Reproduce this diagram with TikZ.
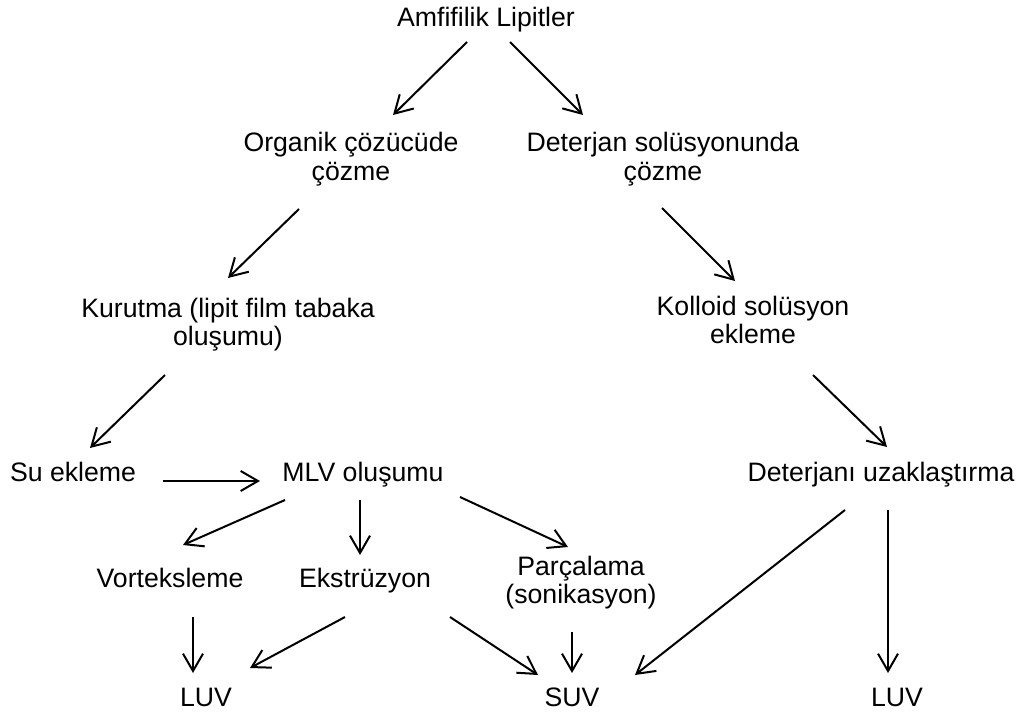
\documentclass[tikz,border=0pt]{standalone}
\usepackage{fontspec}
\setmainfont{Liberation Sans}
\usetikzlibrary{arrows.meta}
\begin{document}
\begin{tikzpicture}[x=0.75pt,y=-0.75pt,
  lbl/.style={anchor=base,inner sep=0pt,align=center,font=\fontsize{20}{21}\selectfont},
  arr/.style={line width=1.5pt,-{Straight Barb[length=13pt,width=15pt,line width=1.5pt]}}]
\useasboundingbox (0,0) rectangle (1019,713);
% nodes (base = baseline of the last line)
\node[lbl] (amf) at (486,27) {Amfifilik Lipitler};
\node[lbl] (org) at (351,180) {Organik çözücüde\\çözme};
\node[lbl] (det) at (663,180) {Deterjan solüsyonunda\\çözme};
\node[lbl] (kur) at (228,345) {Kurutma (lipit film tabaka\\oluşumu)};
\node[lbl] (kol) at (753,343) {Kolloid solüsyon\\ekleme};
\node[lbl] (su) at (73,481) {Su ekleme};
\node[lbl] (mlv) at (363,481) {MLV oluşumu};
\node[lbl] (duz) at (881,481) {Deterjanı uzaklaştırma};
\node[lbl] (vor) at (170,587) {Vorteksleme};
\node[lbl] (eks) at (365,587) {Ekstrüzyon};
\node[lbl] (par) at (581,603) {Parçalama\\(sonikasyon)};
\node[lbl] (luv1) at (206,706) {LUV};
\node[lbl] (suv) at (572,706) {SUV};
\node[lbl] (luv2) at (897,706) {LUV};
% connector end points
\coordinate (amfL) at (467,42);  \coordinate (orgT) at (393,115);
\coordinate (amfR) at (510,42);  \coordinate (detT) at (583,115);
\coordinate (orgB) at (299,209); \coordinate (kurT) at (228,278);
\coordinate (detB) at (662,208); \coordinate (kolT) at (735,281);
\coordinate (kurB) at (165,375); \coordinate (suT) at (90,448);
\coordinate (kolB) at (813,375); \coordinate (duzT) at (887,447);
\coordinate (suR) at (163,481);  \coordinate (mlvL) at (260,481);
\coordinate (mlvA) at (285,500); \coordinate (vorT) at (183,545);
\coordinate (mlvB) at (360,500); \coordinate (eksT) at (360,555);
\coordinate (mlvC) at (460,497); \coordinate (parT) at (568,547);
\coordinate (vorB) at (193,617); \coordinate (luv1T) at (193,673);
\coordinate (eksA) at (345,617); \coordinate (luv1R) at (250,668);
\coordinate (eksB) at (450,617); \coordinate (suvL) at (538,675);
\coordinate (parB) at (572,632); \coordinate (suvT) at (572,673);
\coordinate (duzA) at (845,510); \coordinate (suvR) at (635,675);
\coordinate (duzB) at (888,510); \coordinate (luv2T) at (888,673);
% connectors
\draw[arr] (amfL) -- (orgT);
\draw[arr] (amfR) -- (detT);
\draw[arr] (orgB) -- (kurT);
\draw[arr] (detB) -- (kolT);
\draw[arr] (kurB) -- (suT);
\draw[arr] (kolB) -- (duzT);
\draw[arr] (suR) -- (mlvL);
\draw[arr] (mlvA) -- (vorT);
\draw[arr] (mlvB) -- (eksT);
\draw[arr] (mlvC) -- (parT);
\draw[arr] (vorB) -- (luv1T);
\draw[arr] (eksA) -- (luv1R);
\draw[arr] (eksB) -- (suvL);
\draw[arr] (parB) -- (suvT);
\draw[arr] (duzA) -- (suvR);
\draw[arr] (duzB) -- (luv2T);
\end{tikzpicture}
\end{document}
